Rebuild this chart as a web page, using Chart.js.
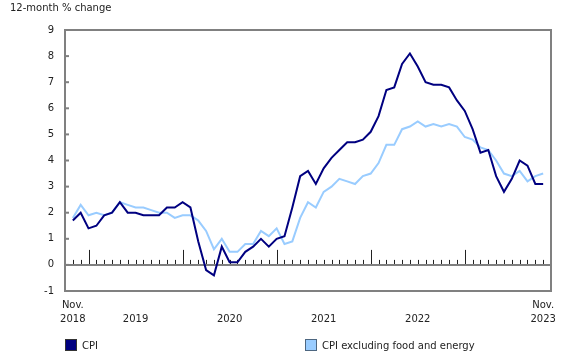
<!DOCTYPE html>
<html>
<head>
<meta charset="utf-8">
<script src="https://cdn.jsdelivr.net/npm/chart.js@4"></script>
<style>
  body { margin: 0; background: #fff; font-family: "DejaVu Sans", Verdana, sans-serif; }
  #wrap { position: relative; width: 580px; height: 360px; }
  #chart { position: absolute; left: 0; top: 0; }
  #title { position: absolute; left: 10px; top: 2px; font-size: 10px; color: #222; }
  .legend { position: absolute; top: 339px; font-size: 10px; color: #222; display: flex; align-items: center; }
  .legend .box { width: 10px; height: 10px; border: 1px solid #333; margin-right: 5px; }
</style>
</head>
<body>
<div id="wrap">
  <canvas id="chart" width="580" height="360"></canvas>
  <div id="title">12-month % change</div>
  <div class="legend" style="left:65px"><span class="box" style="background:#000080"></span>CPI</div>
  <div class="legend" style="left:305px"><span class="box" style="background:#99ccff;border-color:#4d6680"></span>CPI excluding food and energy</div>
</div>
<script>
const months = [
  'Nov 2018','Dec 2018',
  'Jan 2019','Feb 2019','Mar 2019','Apr 2019','May 2019','Jun 2019','Jul 2019','Aug 2019','Sep 2019','Oct 2019','Nov 2019','Dec 2019',
  'Jan 2020','Feb 2020','Mar 2020','Apr 2020','May 2020','Jun 2020','Jul 2020','Aug 2020','Sep 2020','Oct 2020','Nov 2020','Dec 2020',
  'Jan 2021','Feb 2021','Mar 2021','Apr 2021','May 2021','Jun 2021','Jul 2021','Aug 2021','Sep 2021','Oct 2021','Nov 2021','Dec 2021',
  'Jan 2022','Feb 2022','Mar 2022','Apr 2022','May 2022','Jun 2022','Jul 2022','Aug 2022','Sep 2022','Oct 2022','Nov 2022','Dec 2022',
  'Jan 2023','Feb 2023','Mar 2023','Apr 2023','May 2023','Jun 2023','Jul 2023','Aug 2023','Sep 2023','Oct 2023','Nov 2023'
];

const cpi = [
  1.7, 2.0,
  1.4, 1.5, 1.9, 2.0, 2.4, 2.0, 2.0, 1.9, 1.9, 1.9, 2.2, 2.2,
  2.4, 2.2, 0.9, -0.2, -0.4, 0.7, 0.1, 0.1, 0.5, 0.7, 1.0, 0.7,
  1.0, 1.1, 2.2, 3.4, 3.6, 3.1, 3.7, 4.1, 4.4, 4.7, 4.7, 4.8,
  5.1, 5.7, 6.7, 6.8, 7.7, 8.1, 7.6, 7.0, 6.9, 6.9, 6.8, 6.3,
  5.9, 5.2, 4.3, 4.4, 3.4, 2.8, 3.3, 4.0, 3.8, 3.1, 3.1
];

const cpiCore = [
  1.8, 2.3,
  1.9, 2.0, 1.9, 2.0, 2.4, 2.3, 2.2, 2.2, 2.1, 2.0, 2.0, 1.8,
  1.9, 1.9, 1.7, 1.3, 0.6, 1.0, 0.5, 0.5, 0.8, 0.8, 1.3, 1.1,
  1.4, 0.8, 0.9, 1.8, 2.4, 2.2, 2.8, 3.0, 3.3, 3.2, 3.1, 3.4,
  3.5, 3.9, 4.6, 4.6, 5.2, 5.3, 5.5, 5.3, 5.4, 5.3, 5.4, 5.3,
  4.9, 4.8, 4.5, 4.4, 4.0, 3.5, 3.4, 3.6, 3.2, 3.4, 3.5
];

// x positions (month index) where the axis labels sit
const xTickValues = [0, 8, 20, 32, 44, 60];
const xTickLabels = [['Nov.', '2018'], ['', '2019'], ['', '2020'], ['', '2021'], ['', '2022'], ['Nov.', '2023']];

const frameColor = '#808080';

// frame, zero line with month ticks, and inner y ticks
const framePlugin = {
  id: 'frame',
  beforeDatasetsDraw(chart) {
    const { ctx, chartArea: a, scales: { x, y } } = chart;
    ctx.save();
    ctx.strokeStyle = '#222';
    ctx.lineWidth = 1;
    const y0 = y.getPixelForValue(0);
    months.forEach((m, i) => {
      const px = Math.round(x.getPixelForValue(i)) + 0.5;
      const h = m.startsWith('Jan') ? 15 : 5;
      ctx.beginPath();
      ctx.moveTo(px, y0);
      ctx.lineTo(px, y0 - h);
      ctx.stroke();
    });
    ctx.strokeStyle = frameColor;
    ctx.lineWidth = 2;
    y.ticks.forEach(t => {
      const py = y.getPixelForValue(t.value);
      ctx.beginPath();
      ctx.moveTo(a.left, py);
      ctx.lineTo(a.left + 4, py);
      ctx.stroke();
    });
    ctx.beginPath();
    ctx.moveTo(a.left, y0);
    ctx.lineTo(a.right, y0);
    ctx.stroke();
    ctx.strokeRect(a.left, a.top, a.right - a.left, a.bottom - a.top);
    ctx.restore();
  }
};

new Chart(document.getElementById('chart'), {
  type: 'line',
  data: {
    datasets: [
      {
        label: 'CPI',
        data: cpi.map((v, i) => ({ x: i, y: v })),
        borderColor: '#000080',
        borderWidth: 2,
        pointRadius: 0,
        tension: 0
      },
      {
        label: 'CPI excluding food and energy',
        data: cpiCore.map((v, i) => ({ x: i, y: v })),
        borderColor: '#99ccff',
        borderWidth: 2,
        pointRadius: 0,
        tension: 0
      }
    ]
  },
  options: {
    responsive: false,
    animation: false,
    layout: { padding: { top: 30, right: 29, bottom: 29, left: 0 } },
    plugins: { legend: { display: false }, tooltip: { enabled: false } },
    scales: {
      x: {
        type: 'linear',
        min: -1,
        max: 61,
        grid: { display: false, drawTicks: false },
        border: { display: false },
        afterBuildTicks: s => { s.ticks = xTickValues.map(v => ({ value: v })); },
        afterFit: s => { s.height = 40; },
        ticks: {
          autoSkip: false,
          maxRotation: 0,
          padding: 7,
          color: '#222',
          font: { family: '"DejaVu Sans", Verdana, sans-serif', size: 10, lineHeight: 1.45 },
          callback: v => xTickLabels[xTickValues.indexOf(v)]
        }
      },
      y: {
        min: -1,
        max: 9,
        grid: { display: false, drawTicks: false },
        border: { display: false },
        afterFit: s => { s.width = 65; },
        ticks: {
          stepSize: 1,
          padding: 11,
          color: '#222',
          font: { family: '"DejaVu Sans", Verdana, sans-serif', size: 10 }
        }
      }
    }
  },
  plugins: [framePlugin]
});
</script>
</body>
</html>
